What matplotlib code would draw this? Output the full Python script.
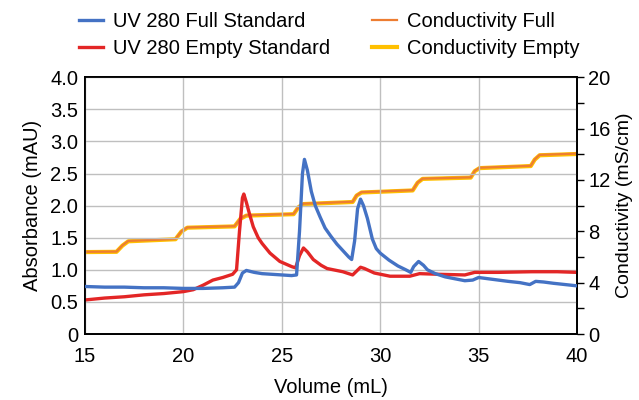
import matplotlib.pyplot as plt
from matplotlib.ticker import MultipleLocator

plt.rcParams['font.family'] = ['Liberation Sans', 'DejaVu Sans']

# UV 280 Full Standard (absorbance, left axis)
full_x = [15.0, 16.0, 17.0, 18.0, 19.0, 20.0, 21.0, 22.0, 22.6, 22.8, 23.0, 23.2, 23.6, 24.0,
          24.5, 25.0, 25.5, 25.75, 25.9, 26.05, 26.15, 26.3, 26.5, 26.7, 26.95, 27.2, 27.5,
          27.8, 28.1, 28.4, 28.55, 28.7, 28.85, 29.0, 29.15, 29.35, 29.6, 29.8, 30.0, 30.45,
          30.9, 31.3, 31.55, 31.7, 31.95, 32.2, 32.4, 32.8, 33.3, 33.8, 34.3, 34.7, 35.0,
          35.5, 36.0, 36.5, 37.1, 37.6, 37.9, 38.3, 38.8, 39.4, 40.0]
full_uv = [0.74, 0.73, 0.73, 0.72, 0.72, 0.71, 0.71, 0.72, 0.73, 0.80, 0.95, 0.99, 0.96, 0.94,
           0.93, 0.92, 0.91, 0.92, 1.60, 2.50, 2.72, 2.55, 2.22, 2.00, 1.82, 1.65, 1.52,
           1.40, 1.30, 1.20, 1.16, 1.45, 1.95, 2.10, 2.00, 1.80, 1.48, 1.33, 1.26, 1.15,
           1.06, 1.00, 0.96, 1.05, 1.13, 1.07, 1.00, 0.94, 0.89, 0.86, 0.83, 0.84, 0.88,
           0.86, 0.84, 0.82, 0.80, 0.77, 0.82, 0.81, 0.79, 0.77, 0.75]

# UV 280 Empty Standard
empty_x = [15.0, 16.0, 17.0, 18.0, 19.0, 20.0, 20.5, 21.0, 21.5, 22.0, 22.5, 22.7, 22.85,
           23.0, 23.07, 23.2, 23.35, 23.55, 23.8, 24.0, 24.4, 24.9, 25.5, 25.7, 25.9, 26.1,
           26.3, 26.6, 27.0, 27.3, 28.1, 28.6, 28.8, 29.0, 29.2, 29.7, 30.5, 31.5, 32.0,
           33.0, 34.3, 34.8, 36.0, 37.7, 39.0, 40.0]
empty_uv = [0.53, 0.56, 0.58, 0.61, 0.63, 0.66, 0.69, 0.76, 0.84, 0.88, 0.93, 1.00, 1.60,
            2.12, 2.18, 2.05, 1.88, 1.67, 1.50, 1.41, 1.26, 1.13, 1.05, 1.03, 1.22, 1.34,
            1.28, 1.16, 1.07, 1.02, 0.97, 0.92, 0.98, 1.04, 1.02, 0.95, 0.90, 0.90, 0.94,
            0.93, 0.92, 0.96, 0.96, 0.97, 0.97, 0.96]

# Conductivity (right axis), both runs nearly identical
cond_x = [15.0, 16.6, 16.9, 17.2, 19.6, 19.9, 20.2, 22.6, 22.9, 23.2, 25.6, 25.85, 26.1,
          28.6, 28.8, 29.05, 31.65, 31.9, 32.15, 34.6, 34.8, 35.05, 37.65, 37.85, 38.1, 40.0]
cond_full = [6.40, 6.42, 6.9, 7.25, 7.40, 8.0, 8.30, 8.40, 9.0, 9.25, 9.35, 9.9, 10.15,
             10.30, 10.8, 11.05, 11.20, 11.8, 12.10, 12.20, 12.7, 12.95, 13.10, 13.6, 13.95, 14.05]
cond_empty = [6.38, 6.40, 6.88, 7.22, 7.38, 7.98, 8.28, 8.38, 8.98, 9.22, 9.33, 9.88, 10.12,
              10.28, 10.78, 11.02, 11.18, 11.78, 12.08, 12.18, 12.68, 12.92, 13.08, 13.58, 13.92, 14.02]

fig = plt.figure(figsize=(6.39, 4.0), dpi=100)
ax = fig.add_axes([0.133, 0.165, 0.770, 0.642])
ax2 = ax.twinx()

ax.set_xlim(15, 40)
ax.set_ylim(0, 4)
ax2.set_ylim(0, 20)

ax.xaxis.set_major_locator(MultipleLocator(5))
ax.set_yticks([0, 0.5, 1, 1.5, 2, 2.5, 3, 3.5, 4])
ax.set_yticklabels(['0', '0.5', '1.0', '1.5', '2.0', '2.5', '3.0', '3.5', '4.0'])
ax2.yaxis.set_major_locator(MultipleLocator(4))
ax2.yaxis.set_minor_locator(MultipleLocator(2))

ax.grid(True, color='#BFBFBF', linewidth=1.0)
ax.set_axisbelow(True)
ax.tick_params(axis='y', length=0, labelsize=14.5, pad=5)
ax.tick_params(axis='x', length=0, labelsize=14.5, pad=9)
ax2.tick_params(axis='y', which='major', length=5, width=1, labelsize=14.5, pad=3, direction='out')
ax2.tick_params(axis='y', which='minor', length=5, width=1, direction='out')

for a in (ax, ax2):
    for s in a.spines.values():
        s.set_linewidth(1.3)
        s.set_color('black')

ax.set_xlabel('Volume (mL)', fontsize=14.5, labelpad=9)
ax.set_ylabel('Absorbance (mAU)', fontsize=14.5, labelpad=6)
ax2.set_ylabel('Conductivity (mS/cm)', fontsize=14, labelpad=4)

l1, = ax.plot(full_x, full_uv, color='#4472C4', linewidth=2.4, label='UV 280 Full Standard', zorder=3)
l2, = ax.plot(empty_x, empty_uv, color='#E32626', linewidth=2.4, label='UV 280 Empty Standard', zorder=2)
l4, = ax2.plot(cond_x, cond_empty, color='#FFC000', linewidth=3.0, label='Conductivity Empty')
l3, = ax2.plot(cond_x, cond_full, color='#ED7D31', linewidth=1.6, label='Conductivity Full')

ax.set_zorder(2)
ax.patch.set_visible(False)
ax2.set_zorder(1)

fig.legend(handles=[l1, l2, l3, l4], ncol=2, loc='upper center',
           bbox_to_anchor=(0.515, 1.015), frameon=False, fontsize=14.5,
           handlelength=1.2, handletextpad=0.5, columnspacing=2.1, labelspacing=0.4)

plt.savefig('out.png', dpi=100)
